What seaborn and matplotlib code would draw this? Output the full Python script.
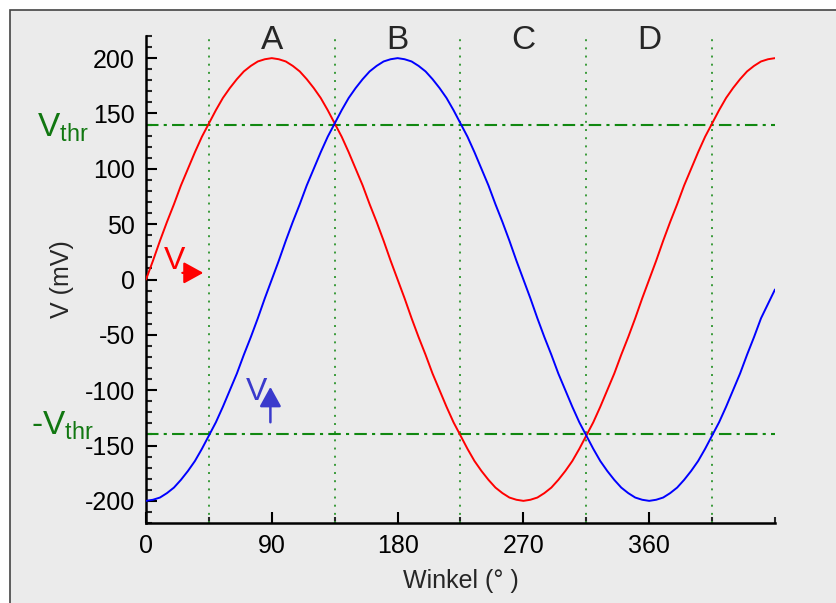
import numpy as np
import pandas as pd
import matplotlib
matplotlib.use("Agg")
import matplotlib.pyplot as plt
from matplotlib.patches import Rectangle
from matplotlib.ticker import MultipleLocator
import seaborn as sns

# ---- data ----
angles = list(range(0, 451, 5))
v_red = [0, 17, 35, 52, 68, 85, 100, 115, 129, 141, 153, 164, 173, 181, 188, 193, 197, 199, 200,
         199, 197, 193, 188, 181, 173, 164, 153, 141, 129, 115, 100, 85, 68, 52, 35, 17, 0,
         -17, -35, -52, -68, -85, -100, -115, -129, -141, -153, -164, -173, -181, -188, -193, -197, -199, -200,
         -199, -197, -193, -188, -181, -173, -164, -153, -141, -129, -115, -100, -85, -68, -52, -35, -17, 0,
         17, 35, 52, 68, 85, 100, 115, 129, 141, 153, 164, 173, 181, 188, 193, 197, 199, 200]
v_blue = [-200, -199, -197, -193, -188, -181, -173, -164, -153, -141, -129, -115, -100, -85, -68, -52, -35, -17, 0,
          17, 35, 52, 68, 85, 100, 115, 129, 141, 153, 164, 173, 181, 188, 193, 197, 199, 200,
          199, 197, 193, 188, 181, 173, 164, 153, 141, 129, 115, 100, 85, 68, 52, 35, 17, 0,
          -17, -35, -52, -68, -85, -100, -115, -129, -141, -153, -164, -173, -181, -188, -193, -197, -199, -200,
          -199, -197, -193, -188, -181, -173, -164, -153, -141, -129, -115, -100, -85, -68, -52, -35, -22, -9]
v_thr = 140
boundaries = [45, 135, 225, 315, 405]
region_labels = ["A", "B", "C", "D"]
region_centers = [90, 180, 270, 360]
x_ticks = [0, 90, 180, 270, 360]
y_ticks = [-200, -150, -100, -50, 0, 50, 100, 150, 200]

df = pd.DataFrame({"angle": angles + angles,
                   "V": v_red + v_blue,
                   "series": ["red"] * len(angles) + ["blue"] * len(angles)})

sns.set_theme(style="ticks")
plt.rcParams["font.family"] = ["Liberation Sans", "DejaVu Sans"]
plt.rcParams["mathtext.fontset"] = "custom"
plt.rcParams["mathtext.rm"] = "Liberation Sans"
plt.rcParams["mathtext.it"] = "Liberation Sans"
plt.rcParams["axes.unicode_minus"] = False

W, H = 836, 603
fig = plt.figure(figsize=(W / 100, H / 100), dpi=100, facecolor="white")
bg = "#ebebeb"
fig.patches.append(Rectangle((10 / W, -0.1), 1.2, 1.1 - 10 / H, transform=fig.transFigure,
                             facecolor=bg, edgecolor="#444444", linewidth=1.2, zorder=-10))

ax = fig.add_axes([146 / W, 1 - 523 / H, (775 - 146) / W, (523 - 36) / H])
ax.set_facecolor("none")

sns.lineplot(data=df, x="angle", y="V", hue="series", palette={"red": "#ff0000", "blue": "#0000ff"},
             linewidth=1.4, legend=False, ax=ax, zorder=3)

for b in boundaries:
    ax.axvline(b, color="#3a9a3a", linestyle=(0, (1, 3.2)), linewidth=1.4, zorder=1)
for yv in (v_thr, -v_thr):
    ax.axhline(yv, color="#118811", linestyle=(0, (6, 2.5, 1.5, 2.5)), linewidth=1.5, zorder=2)

ax.set_xlim(0, 450)
ax.set_ylim(-220, 220)
ax.set_xticks(x_ticks)
ax.set_yticks(y_ticks)
ax.xaxis.set_minor_locator(MultipleLocator(45))
ax.yaxis.set_minor_locator(MultipleLocator(10))
ax.tick_params(axis="both", which="major", direction="in", length=8, width=1.5, labelsize=18, pad=8,
               colors="black")
ax.tick_params(axis="both", which="minor", direction="in", length=4.5, width=1.5)
for s in ("top", "right"):
    ax.spines[s].set_visible(False)
for s in ("left", "bottom"):
    ax.spines[s].set_linewidth(1.8)
    ax.spines[s].set_color("black")

ax.set_xlabel("Winkel (° )", fontsize=18, labelpad=8)
ax.set_ylabel("V (mV)", fontsize=18, labelpad=8)

for lab, c in zip(region_labels, region_centers):
    ax.text(c, 216, lab, fontsize=24, ha="center", va="center", clip_on=False, zorder=5)

# threshold labels
fig.text(37 / W, 1 - 128 / H, r"$\mathrm{V_{thr}}$", fontsize=24, color="#117711", ha="left", va="center")
fig.text(31 / W, 1 - 426 / H, r"-$\mathrm{V_{thr}}$", fontsize=24, color="#117711", ha="left", va="center")

# curve labels with arrows
ax.text(20.5, 17, "V", fontsize=23, color="#ff0000", ha="center", va="center", zorder=5)
ax.annotate("", xy=(41, 6), xytext=(26, 6),
            arrowprops=dict(arrowstyle="-|>,head_length=1.0,head_width=0.55", color="#ff0000", lw=1.6,
                            shrinkA=0, shrinkB=0))
ax.text(79, -102, "V", fontsize=23, color="#3a3acc", ha="center", va="center", zorder=5)
ax.annotate("", xy=(89, -97), xytext=(89, -129),
            arrowprops=dict(arrowstyle="-|>,head_length=1.0,head_width=0.55", color="#3a3acc", lw=1.8,
                            shrinkA=0, shrinkB=0))

fig.savefig("out.png", dpi=100, facecolor="white")
